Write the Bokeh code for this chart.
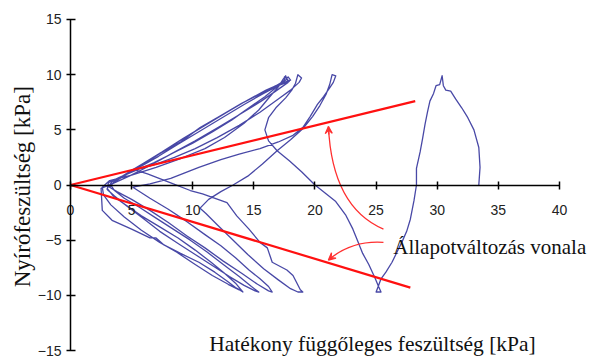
from bokeh.plotting import figure
from bokeh.models import Range1d, FixedTicker, Label, Arrow, VeeHead
from bokeh.embed import file_html
from bokeh.resources import INLINE

# axis ticks
x_ticks = [0, 5, 10, 15, 20, 25, 30, 35, 40]
y_ticks = [-15, -10, -5, 0, 5, 10, 15]

# effective vertical stress (kPa), shear stress (kPa) along the cyclic stress path
cycle_1 = [(33.4, 0.0), (33.5, 1.6), (33.4, 3.4), (33.0, 5.0), (32.5, 6.1), (32.0, 7.0), (31.5, 7.8),
           (31.1, 8.5), (30.7, 8.6), (30.5, 9.0), (30.4, 9.9), (30.2, 9.1), (29.9, 9.0), (29.7, 8.3),
           (29.4, 7.6), (29.2, 6.6), (29.0, 5.5), (28.8, 4.2), (28.6, 3.0), (28.3, 1.5), (28.3, 0.0),
           (28.1, -1.4), (27.8, -3.1), (27.5, -4.2), (27.1, -5.2), (26.7, -6.1), (26.3, -7.0),
           (25.8, -7.9), (25.4, -8.5), (25.2, -9.1), (25.0, -9.7), (25.4, -9.7), (25.2, -9.2)]
cycle_2 = [(24.9, -8.4), (24.4, -7.2), (23.9, -6.2), (23.5, -5.1), (23.1, -4.0), (22.5, -2.7),
           (21.7, -1.5), (20.8, -0.7), (20.0, 0.0), (18.9, 1.2), (17.9, 2.2), (16.9, 3.1), (16.2, 4.0),
           (15.9, 5.0), (16.2, 6.1), (16.8, 7.0), (17.6, 7.9), (18.1, 8.6), (18.4, 9.2), (18.6, 10.0),
           (18.9, 9.7), (18.7, 9.3),
           (18.0, 8.6), (17.0, 7.8), (15.5, 6.6), (13.8, 5.4), (12.0, 4.3), (10.2, 3.3), (8.5, 2.5),
           (7.0, 1.9), (5.8, 1.5), (5.2, 1.4), (6.3, 1.0), (8.2, 0.2), (9.8, -0.5), (10.8, -0.8),
           (12.8, -1.6), (13.6, -2.8), (14.6, -4.0), (15.5, -5.2), (16.1, -5.7), (16.5, -7.0),
           (17.7, -7.7), (18.2, -8.2), (18.8, -9.5), (19.0, -9.7), (18.6, -9.7)]
cycle_3 = [(18.0, -9.4), (17.0, -8.6), (15.8, -7.6), (14.5, -6.3), (13.2, -4.9), (12.0, -3.6),
           (11.1, -2.6), (10.6, -2.1), (11.3, -1.3), (12.3, -0.6), (13.3, 0.0), (14.5, 0.8), (15.7, 1.9),
           (16.9, 3.1), (18.0, 4.1), (19.0, 5.1), (19.8, 6.2), (20.4, 7.2), (20.9, 8.2), (21.2, 9.1),
           (21.4, 10.0), (21.7, 9.9), (21.5, 9.3),
           (21.2, 8.8), (20.7, 8.0), (20.2, 7.3), (19.6, 6.2), (19.0, 5.2), (18.2, 4.5), (17.0, 3.9),
           (15.5, 3.3), (13.8, 2.8), (12.3, 2.3), (10.5, 1.6), (8.2, 0.6), (6.5, 0.1), (5.1, -0.2),
           (6.5, -1.2), (8.0, -2.2), (9.5, -3.3), (11.0, -4.5), (12.3, -5.5), (13.5, -6.6),
           (14.6, -7.7), (15.5, -8.5), (16.2, -9.2), (16.5, -9.7), (16.2, -9.6)]
cycle_4 = [(15.3, -9.0), (14.0, -8.0), (12.5, -6.9), (11.0, -5.7), (9.5, -4.6), (8.0, -3.4),
           (6.5, -2.3), (5.0, -1.3), (3.8, -0.6), (3.2, -0.2), (3.6, 0.3), (4.5, 0.9), (5.8, 1.8),
           (7.4, 2.9), (9.0, 3.9), (10.6, 5.2), (12.3, 6.3), (14.0, 7.4), (15.6, 8.3), (16.8, 9.0),
           (17.6, 9.5), (17.8, 9.8), (18.0, 9.5),
           (17.2, 9.2), (16.0, 8.6), (14.5, 7.7), (12.8, 6.6), (11.0, 5.4), (9.2, 4.2), (7.5, 3.0),
           (6.0, 2.0), (4.8, 1.2), (3.8, 0.5), (3.3, 0.0), (3.6, -0.5), (4.4, -1.2), (5.6, -2.0),
           (7.0, -3.0), (8.4, -4.0), (9.8, -5.0), (11.2, -6.1), (12.5, -7.2), (13.8, -8.3),
           (14.8, -9.2), (15.4, -9.7), (15.1, -9.6)]
cycle_5 = [(14.2, -9.1), (13.0, -8.3), (11.6, -7.3), (10.2, -6.3), (8.8, -5.3), (7.3, -4.2),
           (5.9, -3.0), (4.6, -1.9), (3.6, -1.0), (3.0, -0.4), (3.1, 0.2), (4.0, 0.7), (5.3, 1.3),
           (6.8, 2.0), (8.4, 2.9), (10.0, 3.8), (11.6, 4.8), (13.2, 5.9), (14.6, 7.0), (15.9, 8.0),
           (16.9, 8.9), (17.5, 9.5), (17.5, 9.8), (17.9, 9.4),
           (17.0, 9.0), (15.8, 8.3), (14.2, 7.3), (12.4, 6.1), (10.6, 4.9), (8.8, 3.7), (7.2, 2.6),
           (5.6, 1.6), (4.4, 0.9), (3.4, 0.3), (3.0, -0.3), (3.5, -1.0), (4.5, -1.8), (5.8, -2.8),
           (7.3, -3.8), (8.8, -4.8), (10.2, -5.9), (11.5, -7.0), (12.6, -8.0), (13.5, -8.9),
           (14.1, -9.7), (13.8, -9.5)]
cycle_6 = [(12.9, -9.0), (11.6, -8.2), (10.2, -7.2), (8.7, -6.1), (7.3, -5.2), (5.8, -4.1),
           (4.4, -2.9), (3.3, -1.8), (2.7, -0.9), (2.6, -0.2), (3.2, 0.4), (5.0, 0.9), (7.0, 1.6),
           (9.0, 2.4), (11.0, 3.3), (12.6, 4.3), (14.2, 5.6), (15.4, 6.8), (16.3, 8.0), (17.0, 8.9),
           (17.4, 9.6), (17.6, 9.9), (17.8, 9.3),
           (16.9, 8.6), (15.6, 7.6), (14.0, 6.5), (12.2, 5.3), (10.2, 4.0), (8.2, 2.8), (6.4, 1.7),
           (4.8, 0.8), (3.4, 0.1), (2.5, -0.3), (2.6, -2.3), (3.4, -3.2), (5.0, -4.0), (6.5, -4.8),
           (7.0, -4.8), (7.6, -5.4), (9.0, -6.2), (10.5, -7.0), (11.8, -7.9), (12.8, -8.7),
           (13.5, -9.3), (14.0, -9.6)]

# phase transformation lines from the origin
pt_upper_end = (28.2, 7.6)
pt_lower_end = (27.8, -9.3)

# curved pointers from the caption to the two lines: start, control, tip
pointer_upper = [(25.6, -4.0), (21.4, -2.0), (21.1, 5.3)]
pointer_lower = [(25.6, -5.2), (23.0, -5.0), (21.1, -6.8)]

caption_axis_x = "Hatékony függőleges feszültség [kPa]"
caption_axis_y = "Nyírófeszültség [kPa]"
caption_line = "Állapotváltozás vonala"

# the frame fills the whole canvas; the axes sit at fixed positions inside it
p = figure(width=606, height=358, x_range=Range1d(-5.726, 43.845), y_range=Range1d(-15.725, 16.722),
           output_backend="svg", toolbar_location=None,
           min_border_left=0, min_border_right=0, min_border_top=0, min_border_bottom=0)
p.grid.visible = False
p.outline_line_color = None
p.background_fill_color = "white"
p.border_fill_color = "white"

for ax in (p.xaxis[0], p.yaxis[0]):
    ax.axis_line_color = "black"
    ax.axis_line_width = 1.5
    ax.major_tick_line_color = "black"
    ax.major_tick_line_width = 1.5
    ax.minor_tick_line_color = None
    ax.major_label_text_font = "Liberation Sans"
    ax.major_label_text_font_size = "14px"
    ax.major_label_text_color = "#222222"

p.xaxis.ticker = FixedTicker(ticks=x_ticks)
p.yaxis.ticker = FixedTicker(ticks=y_ticks)
p.xaxis.fixed_location = 0
p.yaxis.fixed_location = 0
p.xaxis.bounds = (x_ticks[0], x_ticks[-1])
p.yaxis.bounds = (y_ticks[0], y_ticks[-1])
p.xaxis.major_tick_in = 4
p.xaxis.major_tick_out = 4
p.xaxis.major_label_standoff = 16
p.yaxis.major_tick_in = 5
p.yaxis.major_tick_out = 4
p.yaxis.major_label_standoff = 5

# stress path
path = cycle_1 + cycle_2 + cycle_3 + cycle_4 + cycle_5 + cycle_6
p.line([pt[0] for pt in path], [pt[1] for pt in path], line_color="#34349c", line_width=1.3,
       line_join="round", line_alpha=0.9)

# phase transformation lines
p.line([0, pt_upper_end[0]], [0, pt_upper_end[1]], line_color="#ff1010", line_width=2.2)
p.line([0, pt_lower_end[0]], [0, pt_lower_end[1]], line_color="#ff1010", line_width=2.2)

# pointers
for ptr in (pointer_upper, pointer_lower):
    (x0, y0), (cx, cy), (x1, y1) = ptr
    p.quadratic(x0=x0, y0=y0, cx=cx, cy=cy, x1=x1, y1=y1, line_color="#ff3030", line_width=1.3)
    p.add_layout(Arrow(end=VeeHead(size=7, line_color="#ff3030", line_width=1.3, fill_color="#ff3030"),
                       x_start=cx + (x1 - cx) * 0.9, y_start=cy + (y1 - cy) * 0.9,
                       x_end=x1, y_end=y1, line_color="#ff3030", line_width=1.3))

serif = "Liberation Serif"
p.add_layout(Label(x=26.4, y=-5.6, text=caption_line, text_font=serif, text_font_size="21px",
                   text_align="left", text_baseline="middle", text_color="#111111"))
p.add_layout(Label(x=24.7, y=-14.4, text=caption_axis_x, text_font=serif, text_font_size="21.5px",
                   text_align="center", text_baseline="middle", text_color="#111111"))
p.add_layout(Label(x=-3.9, y=-0.15, text=caption_axis_y, text_font=serif, text_font_size="23px",
                   angle=1.5708, text_align="center", text_baseline="middle", text_color="#111111"))

open("out.html", "w").write(file_html(p, INLINE))
